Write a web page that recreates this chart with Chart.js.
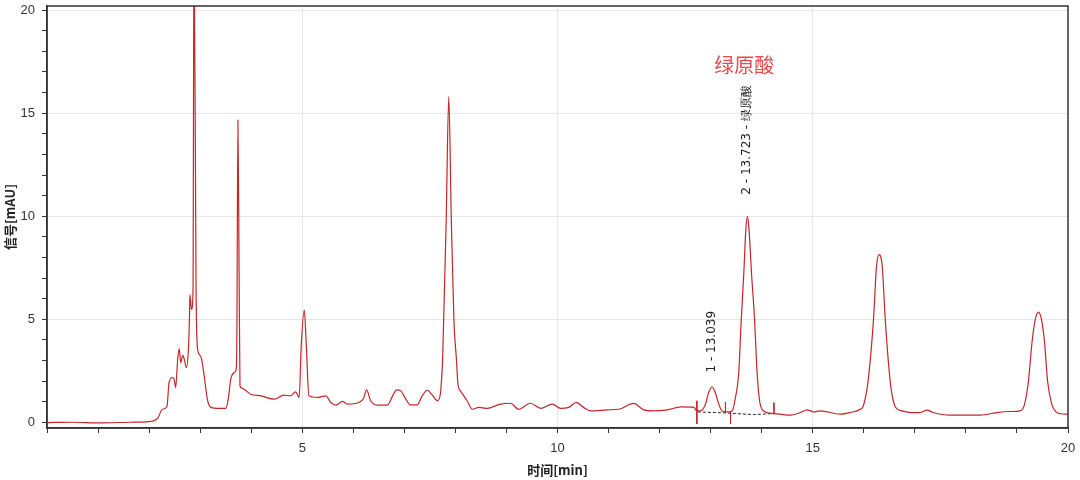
<!DOCTYPE html>
<html>
<head>
<meta charset="utf-8">
<script src="https://cdn.jsdelivr.net/npm/chart.js@4.4.1/dist/chart.umd.min.js"></script>
<style>
  html, body { margin: 0; padding: 0; background: #fff; }
  #wrap { width: 1080px; height: 480px; }
</style>
</head>
<body>
<div id="wrap"><canvas id="myChart" width="1080" height="480"></canvas></div>
<script>
// retention time [min] and signal [mAU]
var times = [0.02, 0.47, 1.06, 1.64, 2.00, 2.17, 2.26, 2.35, 2.39, 2.46, 2.49, 2.52, 2.56, 2.59, 2.62, 2.66, 2.69, 2.73, 2.77, 2.79, 2.80, 2.83, 2.86, 2.88, 2.92, 2.95, 3.01, 3.08, 3.14, 3.21, 3.34, 3.50, 3.55, 3.60, 3.67, 3.71, 3.72, 3.74, 3.76, 3.78, 3.80, 3.86, 3.99, 4.19, 4.45, 4.64, 4.77, 4.87, 4.94, 4.98, 5.04, 5.08, 5.13, 5.30, 5.46, 5.56, 5.66, 5.79, 5.88, 6.11, 6.20, 6.26, 6.34, 6.47, 6.67, 6.77, 6.85, 6.93, 7.03, 7.12, 7.25, 7.35, 7.45, 7.55, 7.65, 7.71, 7.72, 7.75, 7.77, 7.82, 7.87, 7.92, 7.97, 8.02, 8.05, 8.10, 8.23, 8.33, 8.46, 8.62, 8.88, 9.08, 9.24, 9.47, 9.67, 9.90, 10.06, 10.22, 10.37, 10.51, 10.65, 10.97, 11.20, 11.49, 11.69, 11.88, 12.15, 12.41, 12.67, 12.73, 12.80, 12.90, 12.96, 13.03, 13.09, 13.16, 13.22, 13.32, 13.42, 13.48, 13.55, 13.60, 13.65, 13.69, 13.72, 13.75, 13.80, 13.86, 13.91, 13.97, 14.07, 14.17, 14.36, 14.56, 14.76, 14.89, 15.02, 15.15, 15.54, 15.73, 15.93, 15.99, 16.08, 16.19, 16.25, 16.30, 16.36, 16.42, 16.52, 16.61, 16.75, 16.94, 17.10, 17.24, 17.36, 17.69, 18.02, 18.28, 18.60, 18.86, 19.06, 19.14, 19.22, 19.30, 19.36, 19.42, 19.48, 19.54, 19.60, 19.68, 19.76, 19.86, 20.00];
var signal = [-0.01, 0.01, -0.02, 0.01, 0.04, 0.21, 0.64, 0.77, 1.93, 2.18, 2.10, 1.69, 3.06, 3.58, 2.90, 3.26, 3.06, 2.66, 3.55, 5.00, 6.20, 5.48, 6.29, 24.0, 6.45, 3.55, 3.22, 2.25, 1.13, 0.73, 0.68, 0.68, 1.13, 2.10, 2.42, 2.66, 4.50, 14.67, 8.40, 1.80, 1.69, 1.61, 1.37, 1.29, 1.13, 1.32, 1.29, 1.48, 1.21, 3.70, 5.45, 3.70, 1.29, 1.21, 1.29, 0.97, 0.84, 1.02, 0.89, 0.97, 1.16, 1.58, 1.05, 0.84, 0.84, 1.29, 1.58, 1.53, 1.13, 0.85, 0.85, 1.29, 1.56, 1.32, 1.05, 1.45, 1.77, 3.06, 5.00, 9.84, 15.80, 9.84, 5.00, 3.06, 1.85, 1.53, 1.05, 0.64, 0.73, 0.68, 0.89, 0.93, 0.64, 0.93, 0.68, 0.89, 0.68, 0.73, 0.97, 0.73, 0.56, 0.61, 0.64, 0.92, 0.61, 0.56, 0.61, 0.75, 0.73, 0.56, 0.56, 0.89, 1.45, 1.72, 1.45, 0.89, 0.56, 0.51, 0.56, 1.13, 2.42, 5.00, 7.26, 9.40, 10.00, 9.40, 7.26, 5.00, 2.42, 0.89, 0.51, 0.45, 0.40, 0.35, 0.48, 0.61, 0.51, 0.56, 0.40, 0.48, 0.64, 0.80, 1.93, 5.00, 7.60, 8.14, 7.60, 5.00, 1.93, 0.80, 0.56, 0.48, 0.48, 0.60, 0.48, 0.35, 0.35, 0.35, 0.48, 0.53, 0.56, 0.80, 1.90, 4.00, 5.00, 5.35, 5.00, 3.90, 2.00, 0.90, 0.52, 0.42, 0.40];

// integration baseline (dashed) and peak start/end marks
var baseTimes = [12.75, 13.29, 13.84, 14.24];
var baseValues = [0.51, 0.46, 0.38, 0.43];
var markTimes = [12.73, 13.29, 13.39, 14.24];
var markTop = [1.05, 0.99, 0.50, 0.96];
var markBottom = [-0.07, 0.46, -0.07, 0.43];

var peakLabels = ['1 - 13.039', '2 - 13.723 - 绿原酸'];
var peakTimes = [13.039, 13.723];
var compoundName = '绿原酸';

var xTicks = [5, 10, 15, 20];
var yTicks = [0, 5, 10, 15, 20];

var trace = times.map(function (t, i) { return { x: t, y: signal[i] }; });
var baseline = baseTimes.map(function (t, i) { return { x: t, y: baseValues[i] }; });
var marks = [];
markTimes.forEach(function (t, i) {
    marks.push({ x: t, y: markTop[i] });
    marks.push({ x: t, y: markBottom[i] });
    marks.push({ x: t, y: null });
});

// frame + peak labels
var extras = {
    id: 'extras',
    afterDatasetsDraw: function (chart) {
        var c = chart.ctx, a = chart.chartArea;
        var xs = chart.scales.x, ys = chart.scales.y;
        c.save();
        c.strokeStyle = '#333';
        c.lineWidth = 1.5;
        c.strokeRect(a.left, a.top, a.right - a.left, a.bottom - a.top);

        c.fillStyle = '#222';
        c.font = '12px "DejaVu Sans", sans-serif';
        c.textBaseline = 'middle';
        c.textAlign = 'left';
        var starts = [2.42, 11.05];
        peakLabels.forEach(function (txt, i) {
            c.save();
            c.translate(xs.getPixelForValue(peakTimes[i] - 0.01), ys.getPixelForValue(starts[i]));
            c.rotate(-Math.PI / 2);
            c.fillText(txt, 0, 0);
            c.restore();
        });

        c.fillStyle = '#e84a4a';
        c.font = '20px "Noto Sans CJK SC", sans-serif';
        c.textAlign = 'center';
        c.fillText(compoundName, xs.getPixelForValue(13.66), ys.getPixelForValue(17.33));
        c.restore();
    }
};

function keepInts(scale) {
    scale.ticks = scale.ticks.filter(function (t) { return Number.isInteger(t.value); });
}

const ctx = document.getElementById('myChart');

new Chart(ctx, {
    type: 'line',
    data: {
        datasets: [{
            data: trace,
            borderColor: '#c4262c',
            borderWidth: 1.2,
            pointRadius: 0,
            cubicInterpolationMode: 'monotone'
        }, {
            data: baseline,
            borderColor: '#222',
            borderWidth: 1,
            borderDash: [3, 2],
            pointRadius: 0
        }, {
            data: marks,
            borderColor: '#c4262c',
            borderWidth: 1,
            pointRadius: 0,
            spanGaps: false
        }]
    },
    options: {
        responsive: false,
        animation: false,
        events: [],
        layout: { padding: { top: 6, right: 12, left: 0, bottom: 0 } },
        plugins: { legend: { display: false }, tooltip: { enabled: false } },
        scales: {
            x: {
                type: 'linear',
                min: 0,
                max: 20,
                afterBuildTicks: keepInts,
                afterFit: function (s) { s.height = 52; s.paddingLeft = 0; s.paddingRight = 0; },
                ticks: {
                    stepSize: 1,
                    includeBounds: false,
                    autoSkip: false,
                    maxRotation: 0,
                    padding: 8,
                    color: '#333',
                    font: { family: 'Liberation Sans', size: 13 },
                    callback: function (v) { return xTicks.indexOf(v) >= 0 ? String(v) : ''; }
                },
                grid: {
                    tickLength: 5,
                    tickColor: '#333',
                    color: function (c) { return c.tick && c.tick.value % 5 === 0 && c.tick.value > 0 && c.tick.value < 20 ? '#e6e6e6' : 'rgba(0,0,0,0)'; }
                },
                border: { color: '#333', width: 1.5 },
                title: {
                    display: true,
                    text: '时间[min]',
                    color: '#222',
                    padding: { top: 0, bottom: 2 },
                    font: { family: '"Noto Sans CJK SC"', size: 13, weight: 'bold' }
                }
            },
            y: {
                min: -0.27,
                max: 20.2,
                afterBuildTicks: keepInts,
                afterFit: function (s) { s.width = 47; s.paddingTop = 0; s.paddingBottom = 0; },
                ticks: {
                    stepSize: 1,
                    includeBounds: false,
                    autoSkip: false,
                    padding: 7,
                    color: '#333',
                    font: { family: 'Liberation Sans', size: 13 },
                    callback: function (v) { return yTicks.indexOf(v) >= 0 ? String(v) : ''; }
                },
                grid: {
                    tickLength: 5,
                    tickColor: '#333',
                    color: function (c) { return c.tick && c.tick.value % 5 === 0 && c.tick.value > 0 ? '#e6e6e6' : 'rgba(0,0,0,0)'; }
                },
                border: { color: '#333', width: 1.5 },
                title: {
                    display: true,
                    text: '信号[mAU]',
                    color: '#222',
                    padding: { top: 2, bottom: 0 },
                    font: { family: '"Noto Sans CJK SC"', size: 13, weight: 'bold' }
                }
            }
        }
    },
    plugins: [extras]
});
</script>
</body>
</html>
